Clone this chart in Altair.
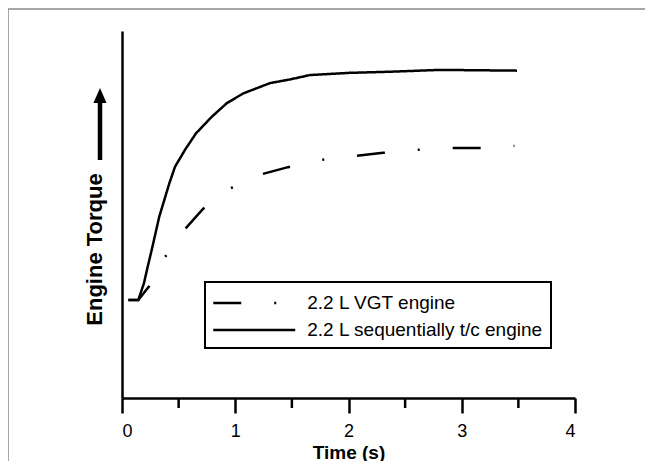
import altair as alt
import pandas as pd

series_names = ["2.2 L VGT engine", "2.2 L sequentially t/c engine"]

t_vgt = [0.056, 0.144, 0.241, 0.38, 0.556, 0.715, 0.962, 1.236, 1.466, 1.757, 2.049, 2.305, 2.596, 2.887, 3.143, 3.465]
v_vgt = [26.7, 26.7, 30.5, 38.4, 46.0, 51.5, 57.2, 61.0, 62.9, 64.9, 65.9, 66.8, 67.6, 68.1, 68.1, 68.7]

t_seq = [0.056, 0.144, 0.194, 0.227, 0.262, 0.329, 0.418, 0.468, 0.556, 0.653, 0.792, 0.924, 1.071, 1.307, 1.483, 1.66, 2.013, 2.366, 2.808, 3.488]
v_seq = [26.7, 26.7, 31.3, 35.8, 40.3, 49.4, 58.5, 63.0, 67.6, 72.1, 76.6, 80.3, 83.0, 85.8, 86.8, 88.0, 88.6, 88.9, 89.4, 89.2]

x_major_ticks = [0, 1, 2, 3, 4]
x_minor_ticks = [0.5, 1.5, 2.5, 3.5]

rows = []
for t, v in zip(t_vgt, v_vgt):
    rows.append({"t": t, "v": v, "series": series_names[0]})
for t, v in zip(t_seq, v_seq):
    rows.append({"t": t, "v": v, "series": series_names[1]})
df = pd.DataFrame(rows)
df["order"] = range(len(df))

W, H = 453, 367

x_scale = alt.Scale(domain=[0, 4], nice=False, zero=False)
y_scale = alt.Scale(domain=[0, 100], nice=False, zero=False)

x_axis = alt.Axis(
    values=x_major_ticks, format="d",
    tickSize=15, tickWidth=2.5, tickColor="black",
    domainWidth=2.5, domainColor="black",
    grid=False,
    labelFont="Liberation Sans", labelFontSize=18, labelColor="black", labelPadding=9,
    title="Time (s)", titleFont="Liberation Sans", titleFontSize=19, titleFontWeight="bold",
    titleColor="black", titleBaseline="alphabetic", titleY=60, titleX=W / 2, titleAlign="center",
)

lines = alt.Chart(df).mark_line(color="black", strokeWidth=2.5, strokeCap="butt").encode(
    x=alt.X("t:Q", scale=x_scale, axis=x_axis),
    y=alt.Y("v:Q", scale=y_scale, axis=alt.Axis(
        ticks=False, labels=False, grid=False,
        domainWidth=2.5, domainColor="black",
        title="Engine Torque", titleFont="Liberation Sans", titleFontSize=22, titleFontWeight="bold",
        titleColor="black", titleAngle=270, titleBaseline="alphabetic", titleAlign="center",
        titleX=-21, titleY=218,
    )),
    strokeDash=alt.StrokeDash("series:N",
        scale=alt.Scale(domain=series_names, range=[[28, 33, 2, 33], [1, 0]]),
        legend=alt.Legend(
            title=None, orient="none", legendX=83, legendY=251,
            strokeColor="black", fillColor="white", padding=8,
            symbolType="M-3.565,0H3.565", symbolSize=529, symbolStrokeWidth=2.5,
            symbolStrokeColor="black", symbolOffset=28.25, labelOffset=40,
            rowPadding=4,
            labelFont="Liberation Sans", labelFontSize=19, labelColor="black", labelLimit=400,
        )),
    order="order:Q",
)

minor = alt.Chart(pd.DataFrame({"m": x_minor_ticks})).mark_rule(color="black", strokeWidth=2.5).encode(
    x=alt.X("m:Q", scale=x_scale, axis=x_axis, title="Time (s)"),
    y=alt.value(H), y2=alt.value(H + 10),
)

one = pd.DataFrame({"k": [0]})
border_top = alt.Chart(one).mark_rule(color="#8a8a8a", strokeWidth=1.5).encode(
    x=alt.value(-114), x2=alt.value(540), y=alt.value(-22))
border_left = alt.Chart(one).mark_rule(color="#8a8a8a", strokeWidth=1.5).encode(
    x=alt.value(-114), y=alt.value(-22), y2=alt.value(450))
arrow_shaft = alt.Chart(one).mark_rule(color="black", strokeWidth=4.5).encode(
    x=alt.value(-22), y=alt.value(69), y2=alt.value(129))
arrow_head = alt.Chart(one).mark_point(
    shape="M-0.87,1L0,-1L0.87,1Z", filled=True, color="black", opacity=1, size=225, strokeWidth=0
).encode(x=alt.value(-22), y=alt.value(64.5))

chart = alt.layer(border_top, border_left, lines, minor, arrow_shaft, arrow_head).properties(
    width=W, height=H,
    autosize=alt.AutoSizeParams(type="none"),
    padding={"left": 114, "top": 23, "right": 70, "bottom": 63},
).configure_view(stroke=None).configure_legend(strokeWidth=2)

chart.save("out.html", embed_options={"renderer": "svg", "actions": False})
